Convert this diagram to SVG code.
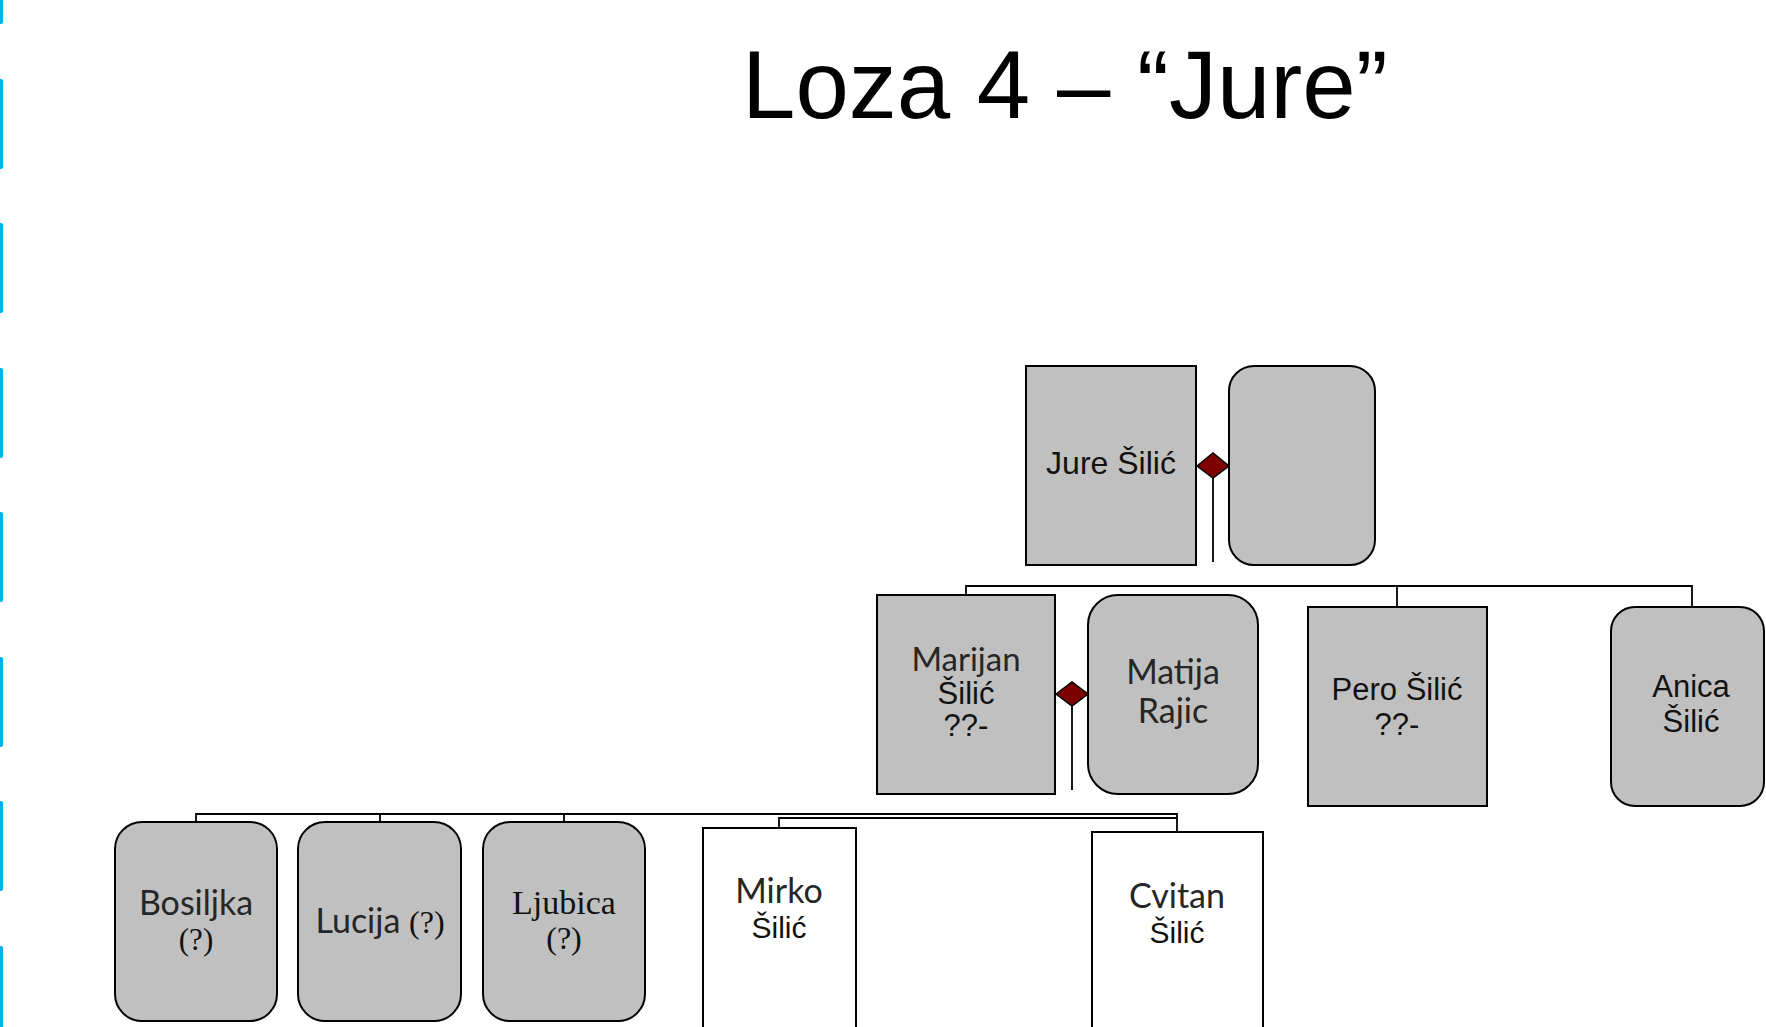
<svg xmlns="http://www.w3.org/2000/svg" width="1766" height="1027" viewBox="0 0 1766 1027">
<style>
.bg{fill:#ffffff}
.tick{fill:#00B0F0}
.box{fill:#C0C0C0;stroke:#000;stroke-width:2}
.wbox{fill:#ffffff;stroke:#000;stroke-width:2}
.dia{fill:#7F0000;stroke:#000;stroke-width:1.5}
.conn{fill:none;stroke:#000;stroke-width:1.8}
.a{font-family:"Liberation Sans",Arial,sans-serif;fill:#111}
.c{font-family:Lato,"Open Sans",sans-serif;fill:#262626}
.t{font-family:"Liberation Serif","Times New Roman",serif;fill:#111}
text{text-anchor:middle}
</style>
<rect class="bg" x="0" y="0" width="1766" height="1027"/>
<g id="side-marks">
<rect class="tick" x="-3" y="-66" width="6" height="90" rx="2"/>
<rect class="tick" x="-3" y="79" width="6" height="90" rx="2"/>
<rect class="tick" x="-3" y="223" width="6" height="90" rx="2"/>
<rect class="tick" x="-3" y="368" width="6" height="90" rx="2"/>
<rect class="tick" x="-3" y="512" width="6" height="90" rx="2"/>
<rect class="tick" x="-3" y="657" width="6" height="90" rx="2"/>
<rect class="tick" x="-3" y="801" width="6" height="90" rx="2"/>
<rect class="tick" x="-3" y="946" width="6" height="90" rx="2"/>
</g>
<text id="title" class="a" x="742" y="118" style="text-anchor:start;fill:#000" font-size="96">Loza 4 – “Jure”</text>
<g id="connectors">
<path class="conn" d="M1213,478 V562"/>
<path class="conn" d="M1072,706 V790"/>
<path class="conn" d="M966,595 V586 H1692 V607"/>
<path class="conn" d="M1397,586 V607"/>
<path class="conn" d="M196,822 V814 H1177 V832"/>
<path class="conn" d="M380,814 V822"/>
<path class="conn" d="M564,814 V822"/>
<path class="conn" d="M779,828 V818 H1177"/>
<polygon class="dia" points="1197,466 1213,453 1229,466 1213,478"/>
<polygon class="dia" points="1056,694 1072,682 1088,694 1072,706"/>
</g>
<g id="jure">
<rect class="box" x="1026" y="366" width="170" height="199"/>
<text class="a" x="1111" y="474" font-size="32">Jure Šilić</text>
</g>
<g id="jure-spouse">
<rect class="box" x="1229" y="366" width="146" height="199" rx="25"/>
</g>
<g id="marijan">
<rect class="box" x="877" y="595" width="178" height="199"/>
<text class="c" x="966" y="671" font-size="33">Marijan</text>
<text class="a" x="966" y="704" font-size="31">Šilić</text>
<text class="a" x="966" y="736" font-size="31">??-</text>
</g>
<g id="matija">
<rect class="box" x="1088" y="595" width="170" height="199" rx="30"/>
<text class="c" x="1173" y="684" font-size="34">Matija</text>
<text class="c" x="1173" y="723" font-size="34">Rajic</text>
</g>
<g id="pero">
<rect class="box" x="1308" y="607" width="179" height="199"/>
<text class="a" x="1397" y="700" font-size="31">Pero Šilić</text>
<text class="a" x="1397" y="735" font-size="31">??-</text>
</g>
<g id="anica">
<rect class="box" x="1611" y="607" width="153" height="199" rx="24"/>
<text class="a" x="1691" y="697" font-size="31">Anica</text>
<text class="a" x="1691" y="732" font-size="31">Šilić</text>
</g>
<g id="bosiljka">
<rect class="box" x="115" y="822" width="162" height="199" rx="27"/>
<text class="c" x="196" y="915" font-size="34">Bosiljka</text>
<text class="t" x="196" y="950" font-size="31">(?)</text>
</g>
<g id="lucija">
<rect class="box" x="298" y="822" width="163" height="199" rx="27"/>
<text x="380" y="933"><tspan class="c" font-size="34">Lucija </tspan><tspan class="t" font-size="32">(?)</tspan></text>
</g>
<g id="ljubica">
<rect class="box" x="483" y="822" width="162" height="199" rx="27"/>
<text class="t" x="564" y="914" font-size="34">Ljubica</text>
<text class="t" x="564" y="949" font-size="32">(?)</text>
</g>
<g id="mirko">
<rect class="wbox" x="703" y="828" width="153" height="215"/>
<text class="c" x="779" y="903" font-size="34">Mirko</text>
<text class="a" x="779" y="938" font-size="30">Šilić</text>
</g>
<g id="cvitan">
<rect class="wbox" x="1092" y="832" width="171" height="215"/>
<text class="c" x="1177" y="908" font-size="34">Cvitan</text>
<text class="a" x="1177" y="943" font-size="30">Šilić</text>
</g>
</svg>
